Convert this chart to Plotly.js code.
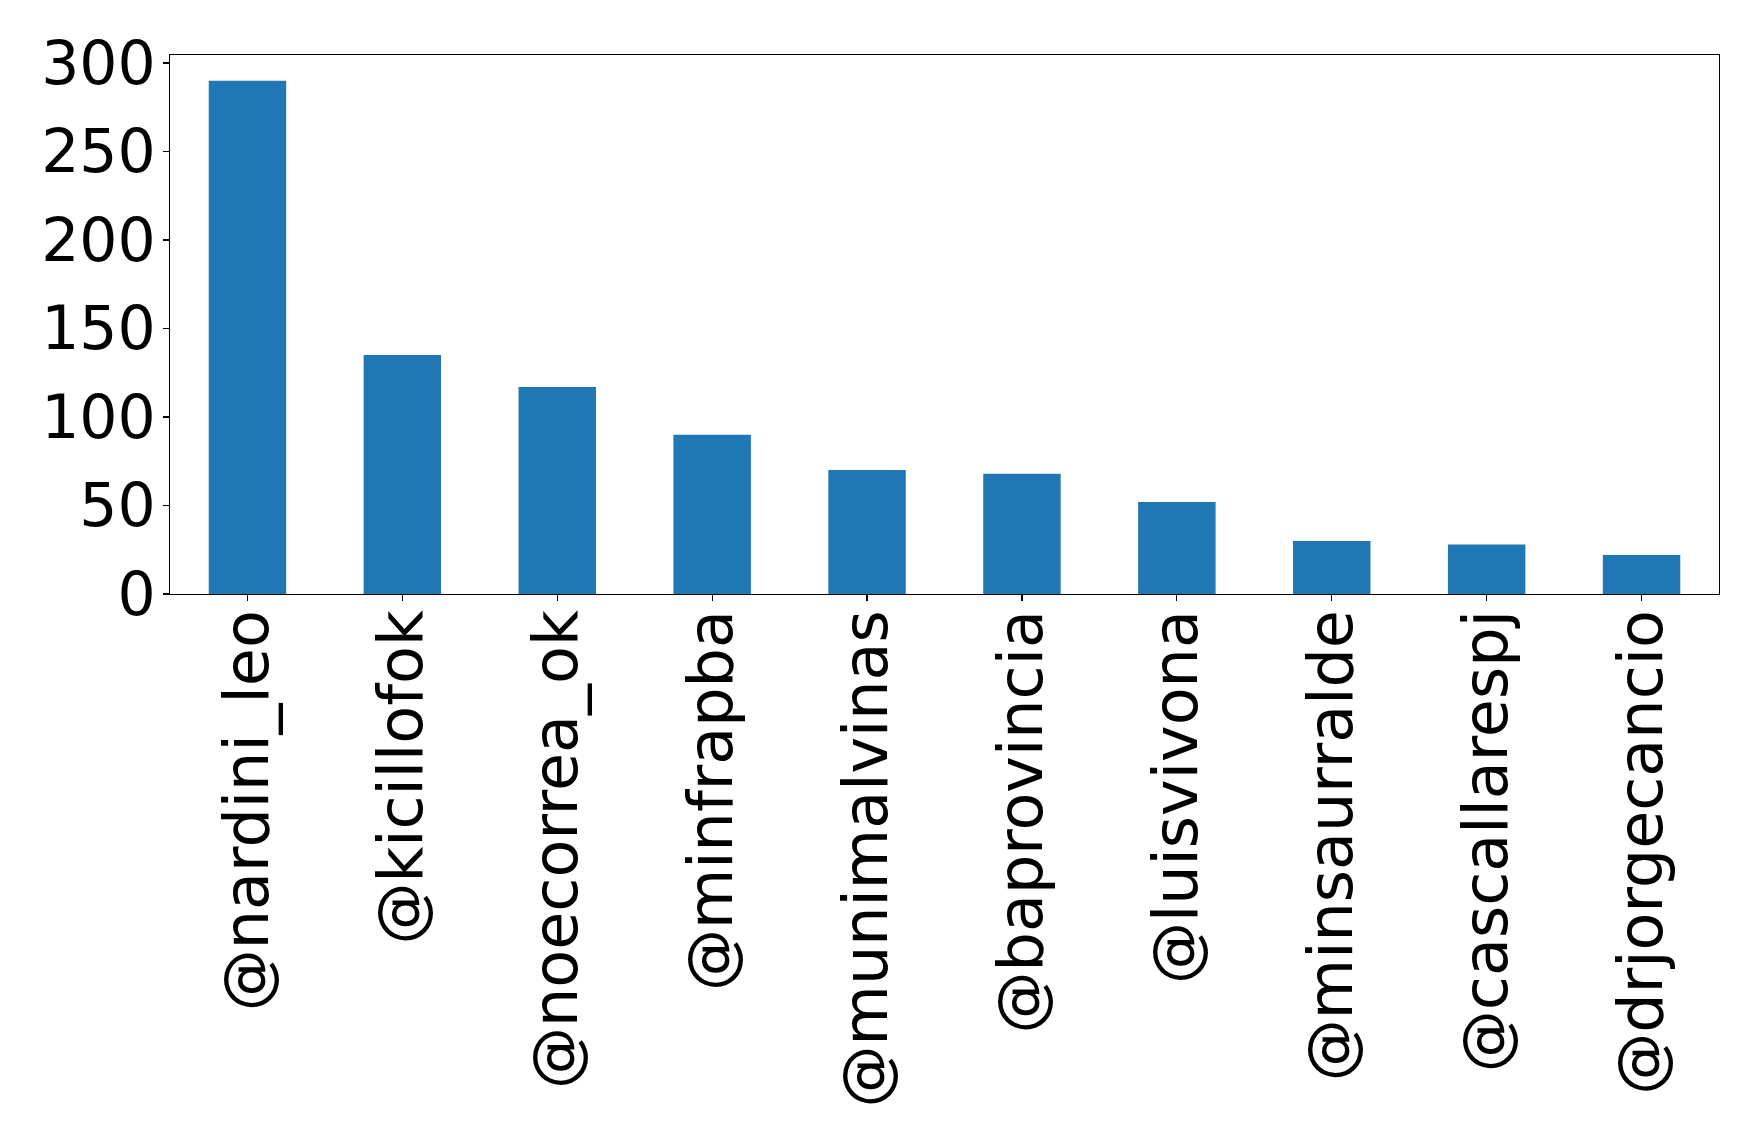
<!DOCTYPE html>
<html>
<head>
<meta charset="utf-8">
<script src="https://cdn.plot.ly/plotly-3.0.1.min.js"></script>
<style>
  html, body { margin: 0; padding: 0; background: #fff; }
  #chart { width: 1759px; height: 1144px; }
</style>
</head>
<body>
<div id="chart"></div>
<script>
// accounts and mention counts
const accounts = ['@nardini_leo', '@kicillofok', '@noecorrea_ok', '@minfrapba', '@munimalvinas',
                  '@baprovincia', '@luisvivona', '@minsaurralde', '@cascallarespj', '@drjorgecancio'];
const counts = [290, 135, 117, 90, 70, 68, 52, 30, 28, 22];
const yTicks = [0, 50, 100, 150, 200, 250, 300];

const fontSize = 62;
const axisFont = { family: 'DejaVu Sans', size: fontSize, color: '#000' };

Plotly.newPlot('chart', [{
    x: accounts.map((_, i) => i),
    y: counts,
    type: 'bar',
    width: 0.5,
    marker: { color: '#1f77b4', line: { width: 0 } },
    hoverinfo: 'skip'
}], {
    width: 1759,
    height: 1144,
    margin: { l: 170, r: 40, t: 55, b: 550 }, // room for the rotated labels
    paper_bgcolor: '#fff',
    plot_bgcolor: '#fff',
    showlegend: false,
    xaxis: {
        range: [-0.5, accounts.length - 0.5],
        tickmode: 'array',
        tickvals: accounts.map((_, i) => i),
        ticktext: accounts,
        tickangle: -90,
        tickfont: axisFont,
        ticklabelstandoff: -16, // pull labels up closer to the axis
        ticks: 'outside', ticklen: 6, tickwidth: 1.3, tickcolor: '#000',
        showline: true, mirror: true, linecolor: '#000', linewidth: 1.3,
        showgrid: false, zeroline: false
    },
    yaxis: {
        range: [0, 304.5],
        tickmode: 'array',
        tickvals: yTicks,
        ticktext: yTicks.map(String),
        tickfont: { family: 'DejaVu Sans', size: 60, color: '#000' },
        ticklabelstandoff: -5,
        ticks: 'outside', ticklen: 6, tickwidth: 1.3, tickcolor: '#000',
        showline: true, mirror: true, linecolor: '#000', linewidth: 1.3,
        showgrid: false, zeroline: false
    }
}, { staticPlot: true });
</script>
</body>
</html>
